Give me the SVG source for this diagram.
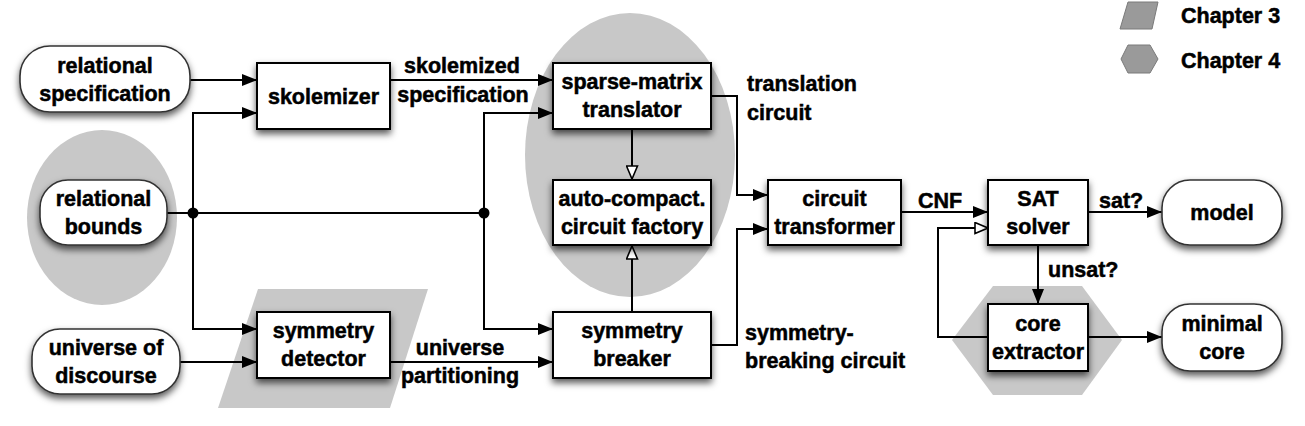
<svg xmlns="http://www.w3.org/2000/svg" width="1305" height="426" viewBox="0 0 1305 426">
<style>
text{font-family:"Liberation Sans",Arial,sans-serif;font-weight:bold;font-size:21.5px;fill:#000;stroke:#000;stroke-width:0.5}
.m{text-anchor:middle}
.box{fill:#fff;stroke:#000;stroke-width:2;filter:url(#sh)}
.rbox{fill:#fff;stroke:#333;stroke-width:1.6;filter:url(#sh)}
.bg{fill:#c8c8c8;stroke:none}
.lg{fill:#9a9a9a;stroke:#7a7a7a;stroke-width:1}
.c{fill:none;stroke:#000;stroke-width:2}
.a{marker-end:url(#fa)}
.o{marker-end:url(#oa)}
</style>
<defs>
<filter id="sh" x="-20%" y="-20%" width="140%" height="160%">
<feDropShadow dx="0" dy="4" stdDeviation="3.5" flood-color="#000" flood-opacity="0.65"/>
</filter>
<marker id="fa" markerUnits="userSpaceOnUse" markerWidth="15" markerHeight="12" refX="15" refY="6" orient="auto">
<path d="M0,0 L15,6 L0,12 z" fill="#000"/>
</marker>
<marker id="oa" markerUnits="userSpaceOnUse" markerWidth="15" markerHeight="13" refX="14" refY="6.5" orient="auto">
<path d="M1,1 L14,6.5 L1,12 z" fill="#fff" stroke="#000" stroke-width="1.6"/>
</marker>
</defs>

<g id="backgrounds">
<ellipse class="bg" cx="102" cy="217.5" rx="75" ry="87.5"/>
<ellipse class="bg" cx="630" cy="155" rx="105" ry="142"/>
<polygon class="bg" points="258,289 428,289 390,408 218,408"/>
<polygon class="bg" points="993,286 1082,286 1122,340 1082,395 993,395 952,340"/>
</g>

<g id="legend">
<polygon class="lg" points="1128,2 1158,2 1152,29 1120,29"/>
<text x="1181" y="23">Chapter 3</text>
<polygon class="lg" points="1128,45 1150,45 1158,59 1150,73 1128,73 1121,59"/>
<text x="1181" y="68">Chapter 4</text>
</g>

<g id="connectors">
<path class="c a" d="M190,80 H257"/>
<path class="c" d="M167,213 H484"/>
<path class="c a" d="M193,213 V113 H257"/>
<path class="c a" d="M193,213 V329 H257"/>
<path class="c a" d="M180,362 H257"/>
<path class="c a" d="M390,80 H553"/>
<path class="c a" d="M484,213 V113 H553"/>
<path class="c a" d="M484,213 V329 H553"/>
<path class="c a" d="M390,362 H553"/>
<path class="c o" d="M632,129 V179"/>
<path class="c o" d="M632,312 V246"/>
<path class="c a" d="M711,96 H737 V195 H768"/>
<path class="c a" d="M711,345 H737 V229 H768"/>
<path class="c a" d="M901,212 H988"/>
<path class="c a" d="M1088,212 H1162"/>
<path class="c a" d="M1038,245 V304"/>
<path class="c a" d="M1088,337 H1162"/>
<path class="c o" d="M988,337 H938 V228 H988"/>
<circle cx="193" cy="213" r="5.5" fill="#000"/>
<circle cx="484" cy="213" r="5.5" fill="#000"/>
<text class="m" x="462" y="73">skolemized</text>
<text class="m" x="463" y="102">specification</text>
<text x="747" y="91">translation</text>
<text x="747" y="120">circuit</text>
<text x="745" y="340">symmetry-</text>
<text x="745" y="368">breaking circuit</text>
<text class="m" x="460" y="355">universe</text>
<text class="m" x="460" y="383">partitioning</text>
<text class="m" x="940" y="208">CNF</text>
<text x="1099" y="208">sat?</text>
<text x="1048" y="277">unsat?</text>
</g>

<g id="relational-specification">
<rect class="rbox" x="20" y="46" width="170" height="66" rx="30"/>
<text class="m" x="105" y="73">relational</text>
<text class="m" x="105" y="101">specification</text>
</g>
<g id="relational-bounds">
<rect class="rbox" x="40" y="180" width="127" height="65" rx="28"/>
<text class="m" x="103.5" y="206">relational</text>
<text class="m" x="103.5" y="234">bounds</text>
</g>
<g id="universe-of-discourse">
<rect class="rbox" x="32" y="329" width="148" height="65" rx="28"/>
<text class="m" x="106" y="355">universe of</text>
<text class="m" x="106" y="383">discourse</text>
</g>
<g id="skolemizer">
<rect class="box" x="257" y="63" width="133" height="66"/>
<text class="m" x="323.5" y="104">skolemizer</text>
</g>
<g id="symmetry-detector">
<rect class="box" x="257" y="312" width="133" height="66"/>
<text class="m" x="323.5" y="338">symmetry</text>
<text class="m" x="323.5" y="366">detector</text>
</g>
<g id="sparse-matrix-translator">
<rect class="box" x="553" y="63" width="158" height="66"/>
<text class="m" x="632" y="89">sparse-matrix</text>
<text class="m" x="632" y="117">translator</text>
</g>
<g id="auto-compact-circuit-factory">
<rect class="box" x="553" y="180" width="158" height="65"/>
<text class="m" x="632" y="206">auto-compact.</text>
<text class="m" x="632" y="234">circuit factory</text>
</g>
<g id="symmetry-breaker">
<rect class="box" x="553" y="312" width="158" height="66"/>
<text class="m" x="632" y="338">symmetry</text>
<text class="m" x="632" y="366">breaker</text>
</g>
<g id="circuit-transformer">
<rect class="box" x="768" y="180" width="133" height="65"/>
<text class="m" x="834.5" y="206">circuit</text>
<text class="m" x="834.5" y="234">transformer</text>
</g>
<g id="sat-solver">
<rect class="box" x="988" y="180" width="100" height="65"/>
<text class="m" x="1038" y="206">SAT</text>
<text class="m" x="1038" y="234">solver</text>
</g>
<g id="core-extractor">
<rect class="box" x="988" y="304" width="100" height="67"/>
<text class="m" x="1038" y="331">core</text>
<text class="m" x="1038" y="359">extractor</text>
</g>
<g id="model">
<rect class="rbox" x="1162" y="180" width="120" height="65" rx="28"/>
<text class="m" x="1222" y="220">model</text>
</g>
<g id="minimal-core">
<rect class="rbox" x="1162" y="304" width="120" height="67" rx="28"/>
<text class="m" x="1222" y="331">minimal</text>
<text class="m" x="1222" y="359">core</text>
</g>
</svg>
